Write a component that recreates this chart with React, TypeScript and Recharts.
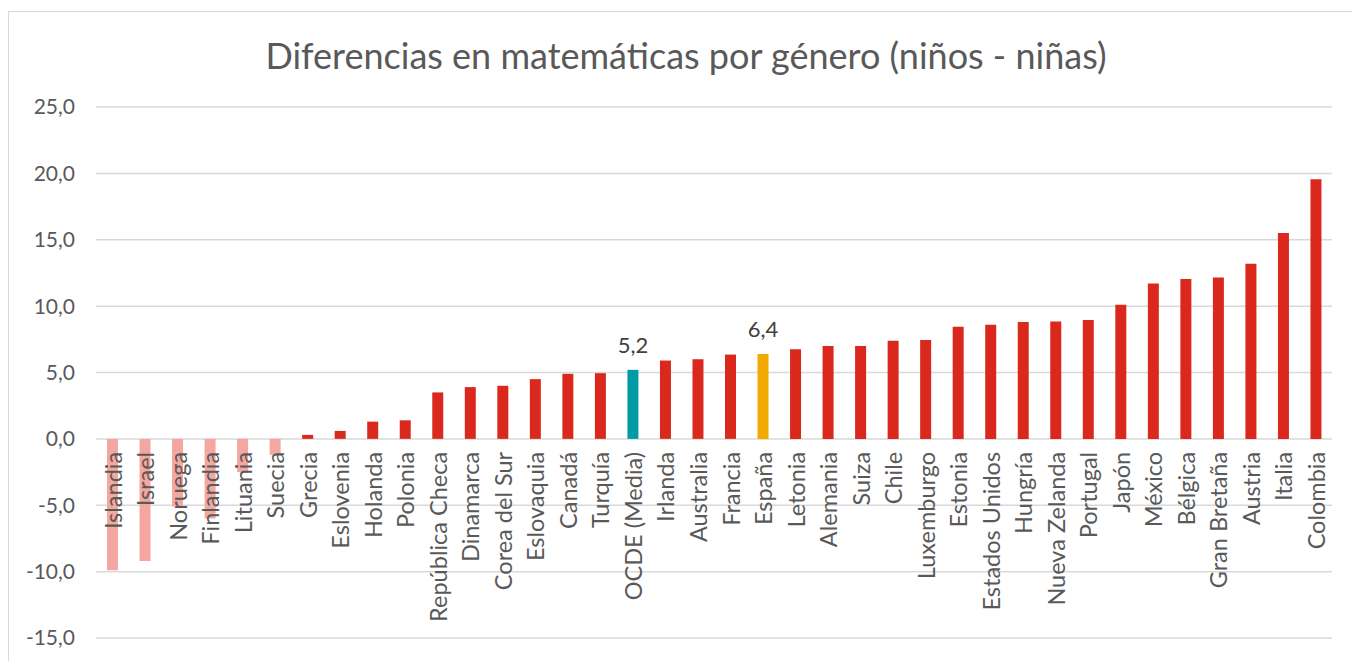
import React from 'react';
import { BarChart, Bar, XAxis, YAxis, CartesianGrid, Cell, LabelList } from 'recharts';

const paises = [
  'Islandia', 'Israel', 'Noruega', 'Finlandia', 'Lituania', 'Suecia', 'Grecia', 'Eslovenia',
  'Holanda', 'Polonia', 'República Checa', 'Dinamarca', 'Corea del Sur', 'Eslovaquia', 'Canadá',
  'Turquía', 'OCDE (Media)', 'Irlanda', 'Australia', 'Francia', 'España', 'Letonia', 'Alemania',
  'Suiza', 'Chile', 'Luxemburgo', 'Estonia', 'Estados Unidos', 'Hungría', 'Nueva Zelanda',
  'Portugal', 'Japón', 'México', 'Bélgica', 'Gran Bretaña', 'Austria', 'Italia', 'Colombia',
];

const diferencias = [
  -9.9, -9.2, -5.1, -6.0, -2.5, -1.2, 0.3, 0.6,
  1.3, 1.4, 3.5, 3.9, 4.0, 4.5, 4.9,
  4.95, 5.2, 5.9, 6.0, 6.35, 6.4, 6.75, 7.0,
  7.0, 7.4, 7.45, 8.45, 8.6, 8.8, 8.85,
  8.95, 10.1, 11.7, 12.05, 12.15, 13.2, 15.5, 19.55,
];

// only these two carry a value label
const destacados = ['OCDE (Media)', 'España'];

const yTicks = [-15, -10, -5, 0, 5, 10, 15, 20, 25];

const data = paises.map((pais, i) => ({ pais, valor: diferencias[i] }));

const FONT = 'Lato, "Open Sans", sans-serif';

const colorDe = (pais: string, valor: number) => {
  if (pais === 'OCDE (Media)') return '#009CA6';
  if (pais === 'España') return '#F2A900';
  if (valor < 0) return '#F4A7A0';
  return '#DA291C';
};

const fmt = (v: number) => v.toFixed(1).replace('.', ',');

const NombrePais = (props: any) => {
  const { x, y, width, height, index } = props;
  const d = data[index];
  const top = Math.min(y, y + height);
  const bottom = Math.max(y, y + height);
  const zeroY = d.valor >= 0 ? bottom : top;
  const cx = x + width / 2;
  const ty = zeroY + 13;
  return (
    <text
      x={cx}
      y={ty}
      transform={`rotate(-90, ${cx}, ${ty})`}
      textAnchor="end"
      dominantBaseline="central"
      fontSize={23.5}
      fontFamily={FONT}
      fill="#595959"
    >
      {d.pais}
    </text>
  );
};

const ValorDestacado = (props: any) => {
  const { x, y, width, index } = props;
  const d = data[index];
  if (!destacados.includes(d.pais)) return null;
  return (
    <text
      x={x + width / 2}
      y={y - 17}
      textAnchor="middle"
      fontSize={22}
      fontFamily={FONT}
      fill="#404040"
    >
      {fmt(d.valor)}
    </text>
  );
};

export default function App() {
  return (
    <div style={{ position: 'absolute', left: 0, top: 0, width: 1352, height: 661, overflow: 'hidden', background: '#fff' }}>
      <div style={{ position: 'absolute', left: 8, top: 11, width: 1500, height: 800, border: '1px solid #d9d9d9' }} />
      <div
        style={{
          position: 'absolute', left: 0, top: 31, width: 1372, textAlign: 'center',
          fontFamily: FONT, fontSize: 36, color: '#595959', lineHeight: '48px',
        }}
      >
        Diferencias en matemáticas por género (niños - niñas)
      </div>
      <div style={{ position: 'absolute', left: 0, top: 0 }}>
        <BarChart width={1352} height={661} data={data} margin={{ top: 107, right: 20, bottom: 23, left: 0 }}>
          <CartesianGrid vertical={false} stroke="#d9d9d9" strokeWidth={1.5} />
          <XAxis dataKey="pais" hide />
          <YAxis
            domain={[-15, 25]}
            ticks={yTicks}
            width={96}
            axisLine={false}
            tickLine={false}
            tickMargin={15}
            tickFormatter={fmt}
            tick={{ fontSize: 21, fill: '#595959', fontFamily: FONT }}
          />
          <Bar dataKey="valor" barSize={11} isAnimationActive={false}>
            {data.map((d) => (
              <Cell key={`c-${d.pais}`} fill={colorDe(d.pais, d.valor)} />
            ))}
            <LabelList dataKey="pais" content={NombrePais} />
            <LabelList dataKey="valor" content={ValorDestacado} />
          </Bar>
        </BarChart>
      </div>
    </div>
  );
}
